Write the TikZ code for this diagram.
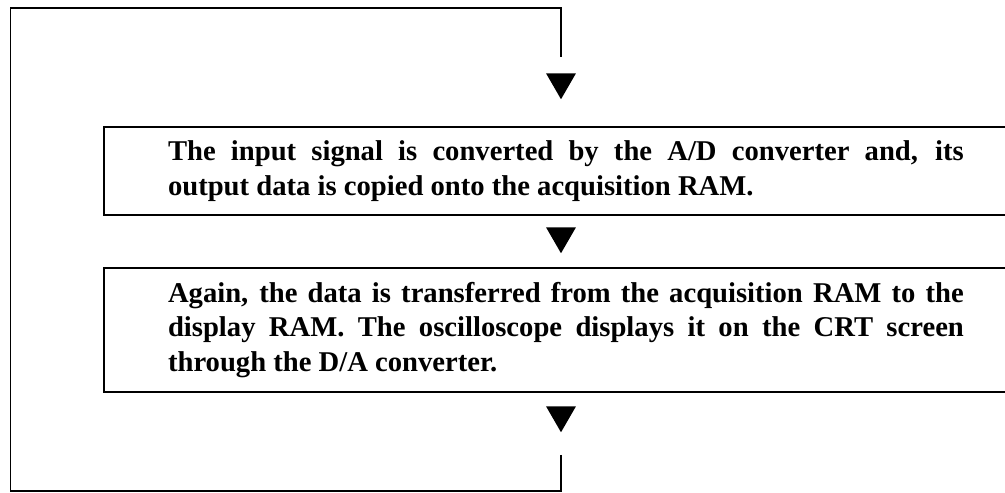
\documentclass[tikz,border=0pt]{standalone}
\usepackage{fontspec}
\setmainfont{Liberation Serif}
\usetikzlibrary{shapes.geometric}

\tikzset{
    procbox/.style={draw, line width=1.2pt, anchor=north west, text width=15.92cm,
        inner xsep=1.28cm, inner ysep=0pt, align=justify,
        font=\fontsize{16.3}{19.6}\selectfont\bfseries},
    headtri/.style={regular polygon, regular polygon sides=3, shape border rotate=180,
        fill=black, inner sep=0pt, minimum size=0.69cm},
    loopline/.style={line width=0.9pt}
}

\begin{document}
\begin{tikzpicture}[x=0.02cm,y=-0.02cm]
        \clip (0,0) rectangle (1005,493);

        % Process steps
        \node[procbox, minimum height=1.76cm] (acq) at (103,126) {\strut The input signal is converted by the A/D converter and, its\linebreak
            output data is copied onto the acquisition RAM.\strut};
        \node[procbox, minimum height=2.48cm] (disp) at (103,267) {\strut Again, the data is transferred from the acquisition RAM to the\linebreak
            display RAM. The oscilloscope displays it on the CRT screen\linebreak
            through the D/A converter.\strut};

        % Arrow heads
        \node[headtri] (headA) at (561,82) {};
        \node[headtri] (headB) at (561,236) {};
        \node[headtri] (headC) at (561,415) {};

        % Loop back to the start
        \coordinate (loopS) at (561,455);
        \coordinate (loopE) at (561,57);
        \draw[loopline] (loopS) -- (561,491) -- (10.5,491) -- (10.5,8) -- (561,8) -- (loopE);
\end{tikzpicture}
\end{document}
